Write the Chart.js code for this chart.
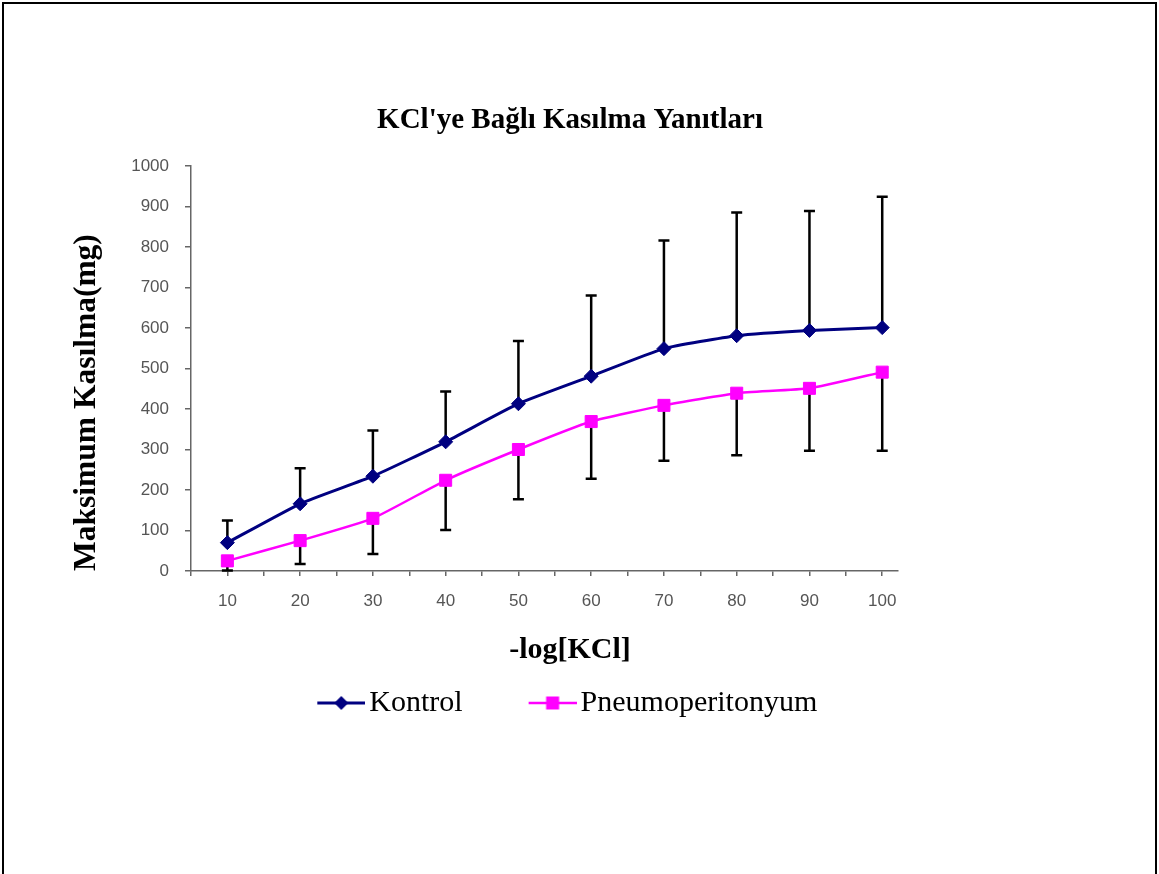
<!DOCTYPE html>
<html>
<head>
<meta charset="utf-8">
<script src="https://cdn.jsdelivr.net/npm/chart.js@4/dist/chart.umd.min.js"></script>
<style>
  html, body { margin: 0; padding: 0; background: #fff; }
  #wrap { position: relative; width: 1159px; height: 874px; overflow: hidden; }
  #frame { position: absolute; left: 2px; top: 2px; width: 1155px; height: 900px; border: 2px solid #000; box-sizing: border-box; pointer-events: none; }
  canvas { position: absolute; left: 0; top: 0; }
</style>
</head>
<body>
<div id="wrap">
  <canvas id="c" width="1159" height="874"></canvas>
  <div id="frame"></div>
</div>
<script>
// ---- data ----
const xValues = [10, 20, 30, 40, 50, 60, 70, 80, 90, 100];
const kontrol = [70, 166, 234, 319, 413, 481, 549, 581, 594, 601];
const kontrolErr = [55, 88, 113, 124, 155, 199, 267, 304, 295, 323];      // upward
const pneumo = [25, 75, 130, 224, 300, 369, 409, 439, 451, 491];
const pneumoErr = [24, 58, 88, 123, 123, 141, 137, 153, 154, 194];        // downward
const seriesNames = ['Kontrol', 'Pneumoperitonyum'];
const yTickValues = [0, 100, 200, 300, 400, 500, 600, 700, 800, 900, 1000];
const titleText = "KCl'ye Bağlı Kasılma Yanıtları";
const xTitleText = '-log[KCl]';
const yTitleText = 'Maksimum Kasılma(mg)';

const NAVY = '#000080';
const MAGENTA = '#FF00FF';

// tick font: prefer a narrow sans if installed
const probe = document.createElement('canvas').getContext('2d');
probe.font = '20px "Liberation Sans Narrow", monospace';
const wN = probe.measureText('1000').width;
probe.font = '20px monospace';
const wM = probe.measureText('1000').width;
const hasNarrow = Math.abs(wN - wM) > 0.5;
const tickFont = hasNarrow ? { family: '"Liberation Sans Narrow"', size: 21 } : { family: '"Liberation Sans"', size: 17 };
const tickLH = tickFont.size * 1.2;

// legend icons (line + marker)
function makeIcon(color, lw, shape) {
  const c = document.createElement('canvas');
  c.width = 105; c.height = 22;
  const g = c.getContext('2d');
  g.strokeStyle = color; g.lineWidth = lw;
  g.beginPath(); g.moveTo(57, 11); g.lineTo(105, 11); g.stroke();
  g.fillStyle = color;
  g.beginPath();
  if (shape === 'diamond') {
    g.moveTo(81, 4); g.lineTo(88, 11); g.lineTo(81, 18); g.lineTo(74, 11); g.closePath();
  } else {
    g.rect(74.5, 4.5, 13, 13);
  }
  g.fill();
  return c;
}
const legendIcons = [makeIcon(NAVY, 3, 'diamond'), makeIcon(MAGENTA, 2.5, 'square')];

const errorBars = {
  id: 'errorBars',
  beforeDatasetsDraw(chart) {
    const { ctx, scales: { x, y } } = chart;
    ctx.save();
    ctx.strokeStyle = '#000';
    ctx.lineWidth = 2.5;
    const sets = [[kontrol, kontrolErr, 1], [pneumo, pneumoErr, -1]];
    sets.forEach(([vals, errs, dir]) => {
      vals.forEach((v, i) => {
        const px = x.getPixelForValue(xValues[i]);
        const p0 = y.getPixelForValue(v);
        const p1 = y.getPixelForValue(v + dir * errs[i]);
        ctx.beginPath();
        ctx.moveTo(px, p0); ctx.lineTo(px, p1);
        ctx.moveTo(px - 5.5, p1); ctx.lineTo(px + 5.5, p1);
        ctx.stroke();
      });
    });
    ctx.restore();
  }
};

const serif = '"Liberation Serif", "Times New Roman", serif';
const axisGray = '#666';

new Chart(document.getElementById('c'), {
  type: 'line',
  data: {
    datasets: [
      {
        label: seriesNames[0],
        data: xValues.map((x, i) => ({ x, y: kontrol[i] })),
        borderColor: NAVY, backgroundColor: NAVY, borderWidth: 3,
        pointStyle: 'rectRot', pointRadius: 7, pointBorderWidth: 1,
        pointBackgroundColor: NAVY, pointBorderColor: NAVY,
        tension: 0.15, fill: false
      },
      {
        label: seriesNames[1],
        data: xValues.map((x, i) => ({ x, y: pneumo[i] })),
        borderColor: MAGENTA, backgroundColor: MAGENTA, borderWidth: 2.5,
        pointStyle: 'rect', pointRadius: 8.5, pointBorderWidth: 1,
        pointBackgroundColor: MAGENTA, pointBorderColor: MAGENTA,
        tension: 0.15, fill: false
      }
    ]
  },
  options: {
    responsive: false,
    devicePixelRatio: 1,
    animation: false,
    layout: { padding: { left: 60, right: 79, top: 0, bottom: 146 } },
    scales: {
      x: {
        type: 'linear', min: 5, max: 102.1,
        grid: { display: true, drawOnChartArea: false, drawTicks: true, tickLength: 5, color: axisGray, lineWidth: 1.5 },
        border: { display: true, color: axisGray, width: 1.5 },
        ticks: {
          stepSize: 5, includeBounds: false, autoSkip: false, maxRotation: 0,
          padding: 30.5 - tickLH / 2 - 5, color: '#555', font: tickFont,
          callback: v => (xValues.includes(v) ? String(v) : '')
        },
        afterFit(s) { s.height = 40; }
      },
      y: {
        type: 'linear', min: 0, max: 1000,
        grid: { display: true, drawOnChartArea: false, drawTicks: true, tickLength: 6, color: axisGray, lineWidth: 1.5 },
        border: { display: true, color: axisGray, width: 1.5 },
        afterBuildTicks(s) { s.ticks = yTickValues.map(v => ({ value: v })); },
        ticks: { padding: 16, color: '#555', font: tickFont, callback: v => String(v) },
        title: {
          display: true, text: yTitleText, align: 'start', color: '#000',
          font: { family: serif, size: 31.5, weight: 'bold' },
          padding: { top: 8.4, bottom: 0 }
        },
        afterFit(s) { s.width = 131; }
      },
      yR: {
        type: 'linear', position: 'right', display: true,
        grid: { display: false }, border: { display: false }, ticks: { display: false },
        afterFit(s) { s.width = 182.5; }
      }
    },
    plugins: {
      title: {
        display: true, text: titleText, color: '#000',
        font: { family: serif, size: 29, weight: 'bold' },
        padding: { top: 103.6, bottom: 27.6 }
      },
      subtitle: {
        display: true, position: 'bottom', text: xTitleText, color: '#000',
        font: { family: serif, size: 30, weight: 'bold' },
        padding: { top: 21, bottom: 0 }
      },
      legend: {
        display: true, position: 'bottom', fullSize: false, weight: 2000,
        labels: {
          color: '#000', font: { family: serif, size: 30 },
          usePointStyle: true, pointStyleWidth: 83, padding: 20,
          generateLabels(chart) {
            const items = Chart.defaults.plugins.legend.labels.generateLabels(chart);
            items.forEach(it => { it.pointStyle = legendIcons[it.datasetIndex]; it.lineWidth = 0; });
            return items;
          }
        }
      },
      tooltip: { enabled: false }
    }
  },
  plugins: [errorBars]
});
</script>
</body>
</html>
